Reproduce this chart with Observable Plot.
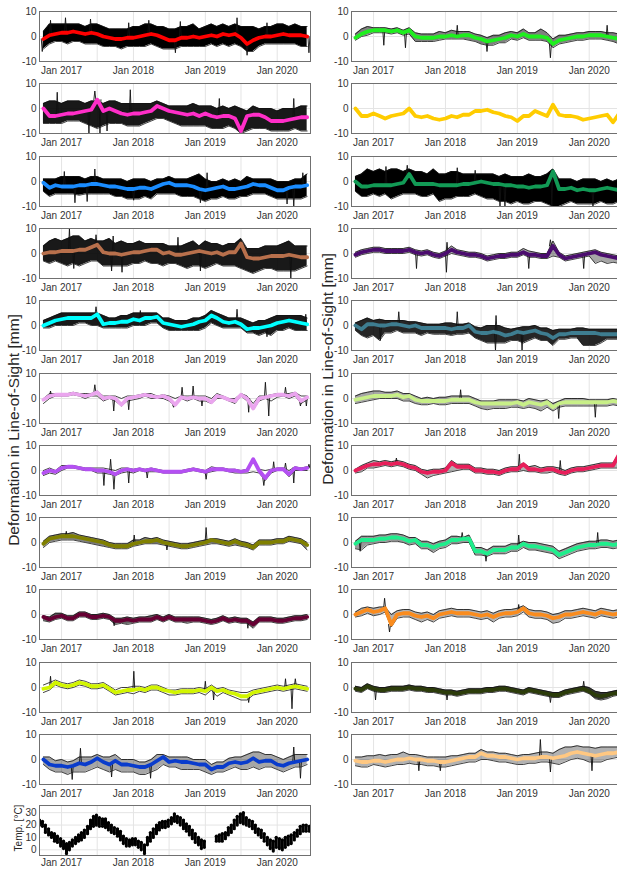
<!DOCTYPE html>
<html><head><meta charset="utf-8">
<script src="https://cdn.jsdelivr.net/npm/d3@7"></script>
<script src="https://cdn.jsdelivr.net/npm/@observablehq/plot@0.6"></script>
<style>
body{margin:0;background:#fff;}
#wrap{position:relative;width:617px;height:869px;overflow:hidden;background:#fff;font-family:"Liberation Sans",Arial,sans-serif;}
.ylab{position:absolute;white-space:nowrap;transform:translate(-50%,-50%) rotate(-90deg);color:#262626;line-height:1;}
</style></head><body><div id="wrap"></div><script>
// ---- time sampling (monthly from 11 Sep 2016) ----
const xStart = new Date(Date.UTC(2016, 8, 11));
const xEnd = new Date(Date.UTC(2020, 5, 18));
const dates = d3.utcMonth.range(xStart, new Date(Date.UTC(2020, 5, 12)));
const tDates = d3.range(91).map(k => d3.utcDay.offset(xStart, Math.round(k * 365.25 / 24)));
const yearTicks = ["2017-01-01", "2018-01-01", "2019-01-01", "2020-01-01"];
const gridTicks = ["2017-01-01", "2017-07-01", "2018-01-01", "2018-07-01", "2019-01-01", "2019-07-01", "2020-01-01"];
const yTicks = [-10, 0, 10];
const tempTicks = [0, 10, 20, 30];

// ---- left column: mean (coloured), upper / lower edge of the black member lines, single-date spikes ----
const redMean = [-1,0.5,1,1.5,1.5,2,1.5,1,1.5,1, 0,-0.5,-1,-1,-0.5,-0.5,0,0.5,1,0.5, -0.5,-1.5,-1.5,-0.5,-0.5,0,-0.5,0,0.5,0, 1,0.5,1,-0.5,-3,-1.5,-0.5,0,0,0.5, 1,0.5,0.5,0.5,0,-0.5];
const redHi = [2,5,5,5,5,5,5,4,5,5, 4,3,3,3,3,4,4,5,5,4, 4,3,3,4,4,5,3,4,5,4, 5,4,5,4,4,4,3,4,4,5, 5,4,5,4,4,3];
const redLo = [-5,-3,-2,-2,-3,-2,-2,-3,-3,-3, -4,-4,-4,-5,-4,-4,-4,-4,-3,-4, -5,-5,-5,-4,-4,-4,-4,-4,-3,-4, -3,-4,-3,-4,-6,-6,-4,-3,-3,-3, -3,-3,-3,-4,-4,-5];
const redSpikes = [["2016-11-06",6.5],["2017-01-21",7.5],["2017-05-28",7],["2017-12-08",5.5],["2018-03-20",6.5],["2018-08-27",6],["2019-06-11",7.5],["2019-11-10",5.5],["2016-09-25",-6],["2018-08-02",-6.5],["2019-08-01",-7.5],["2020-06-10",-6.5]];

const pinkMean = [0,-3,-3,-2.5,-2,-2,-1.5,-1,-0.5,3.5, -1,0,-1,-2,-2.5,-2,-2,-1.5,-1,1, 0,-1,-1.5,-2,-2.5,-2,-3,-2,-3,-3.5, -3,-3,-4,-9,-3,-2.5,-2.5,-3.5,-5,-5, -5,-4.5,-4,-3.5,-3.5,-2];
const pinkHi = [2,3,3,2,3,3,3,2,3,3, 2,3,3,2,2,2,2,2,2,3, 2,1,1,1,1,2,1,1,1,0, 1,0,1,0,-1,1,0,0,0,-1, 0,0,0,1,1,2];
const pinkLo = [-6,-6,-6,-6,-5,-5,-5,-6,-7,-8, -7,-6,-6,-6,-7,-7,-7,-6,-5,-4, -4,-5,-6,-7,-7,-7,-7,-7,-8,-8, -8,-7,-8,-10,-9,-8,-8,-8,-9,-9, -9,-9,-8,-9,-9,-7];
const pinkSpikes = [["2017-06-19",7],["2017-12-16",7.5],["2019-03-13",4],["2020-03-25",4],["2016-12-10",6.5],["2017-05-20",-10],["2017-07-15",-10],["2017-08-20",-9]];

const azureMean = [-0.5,-2.5,-1.5,-2,-2,-2,-1.5,-1.5,-1,-1, -1.5,-2,-2,-2.5,-3,-3,-2.5,-2.5,-3,-2, -1,-0.5,-1.5,-1.5,-1.5,-2,-3,-3.5,-3,-2.5, -2,-3,-3,-2.5,-2,-1,-1.5,-1.5,-2.5,-3.5, -3.5,-2.5,-2,-2,-1.5,-1.5];
const azureHi = [1,1,1,2,2,2,2,1,2,2, 1,1,1,1,0,1,1,1,0,1, 1,2,1,1,1,2,3,1,0,0, 1,0,1,0,2,1,1,1,1,0, 0,0,1,1,3,2];
const azureLo = [-4,-6,-5,-5,-5,-5,-5.5,-5,-5,-5, -5,-5,-6,-6,-7,-7,-7,-6,-7,-5, -5,-5,-5,-6,-6,-6,-7,-8,-7,-7, -6,-7,-7,-6,-6,-5,-5,-5,-6,-7, -7,-7,-7,-7,-6,-5];
const azureSpikes = [["2017-01-15",4],["2017-06-19",5],["2019-01-10",3.5],["2020-05-10",3.5],["2017-03-10",-8.5],["2017-05-11",-8],["2018-01-02",-7.5],["2018-12-07",-8.5],["2020-02-20",-9],["2020-03-25",-10]];

const brownMean = [0,0.5,0.5,1,1,1,1.5,1.5,2.5,3.5, 0.5,0,0,-0.5,0,0.5,0.5,1,1.5,1.5, 0,0.5,-0.5,-0.5,0,0.5,1,0.5,0,0.5, -0.5,0.5,0.5,4,-1.5,-2,-2,-1.5,-1,-1, -1,-0.5,-1,-1.5,-1.5,-2];
const brownHi = [3,5,6,5,6,7,7,5,6,5, 5,6,4,5,4,4,5,4,4,4, 4,3,3,3,4,5,3,5,4,4, 3,4,4,6,2,2,2,3,3,3, 4,5,3,3,3,2];
const brownLo = [-3,-4,-3,-4,-5,-4,-5,-4,-3,-3, -5,-5,-5,-5,-5,-4,-4,-3,-4,-4, -5,-4,-4,-5,-6,-5,-5,-6,-5,-4, -5,-5,-5,-6,-7,-8,-7,-6,-6,-7, -7,-7,-7,-6,-5,-5];
const brownSpikes = [["2017-02-10",10],["2017-06-25",7.5],["2017-09-20",7],["2018-08-15",6.5],["2017-03-04",-6],["2017-09-12",-7],["2017-11-04",-7.5],["2018-12-07",-7],["2020-03-10",-10]];

const cyanMean = [0,1,2,2.5,3,3,3,3,3,4.5, 0.5,1,1,1.5,1.5,2.5,2,3,3,3.5, 1,0.5,0,-0.5,0,0.5,1.5,2,4,3, 1.5,1,1.5,0.5,-1.5,-1,-1,-0.5,0,1, 1.5,2,1.5,1,0.5,1];
const cyanHi = [2,3,4,5,5,5,5,5,5,5, 4,3,3,4,4,5,5,5,5,5, 3,3,2,2,2,3,3,4,6,5, 4,3,3,3,2,1,2,2,3,4, 4,4,4,4,3,3];
const cyanLo = [-1,-1,0,0,0,0,1,1,0,0, -1,-1,-1,-1,-1,0,0,0,1,1, -1,-2,-2,-2,-2,-2,-2,-1,1,0, -1,-1,-1,-1,-3,-3,-4,-3,-4,-2, -2,-1,-2,-2,-2,-2];
const cyanSpikes = [["2017-06-25",7.5],["2018-02-05",6],["2019-06-11",6.5],["2020-05-25",4.5],["2019-11-10",-4.5]];

const plumMean = [-0.5,1,1.5,1.5,1.5,2,1.5,1,1.5,2.5, 0,0.5,0,-2.5,0,0.5,1,1.5,1,0.5, 1,0,-2.5,0.5,0,0.5,0,0,-1.5,1, 0.5,-0.5,-1,1.5,0,-4,0,0.5,1,1.5, 1.5,1,2,-1,0.5,0.5];
const plumHi = [0,2,2,2,2,2.5,2,2,2,3, 1,1,1,0,1,1,1.5,2,2,1, 1.5,1,0,1,1,1,1,1,0,2, 1,0,0,2,1,-2,1,1,1.5,2, 2,2,2.5,1,1,1];
const plumLo = [-2,0,1,1,1,1.5,1,0,1,1, -1,0,-1,-3,-1,-0.5,0,1,0,0, 0,-1,-3,0,-1,0,-1,-1,-2,0, 0,-1,-2,1,-1,-4.5,-1,0,-1,0.5, 1,0,1,-2,-0.5,-0.5];
const plumSpikes = [["2016-11-06",3],["2017-06-19",5.5],["2017-09-23",-5],["2017-12-08",-4.5],["2018-07-24",-3.5],["2018-09-05",4.5],["2018-10-31",5],["2018-12-15",-3],["2019-08-09",-5.5],["2019-11-02",6.5],["2019-11-19",-7],["2020-02-12",4.5],["2020-04-28",-3],["2020-05-28",-3]];

const purpleMean = [-1,0,-0.5,1,1.5,1.5,1,0.5,0.5,0, 0,-0.5,-1.5,0,0.5,0,0.5,0,0.5,0, -0.5,-0.5,-0.5,-0.5,0,0.5,0,-0.5,0.5,0.5, 0.5,0,0,-0.5,0,4.5,0,-3,0,0.5, 0.5,-1.5,1,0.5,1,0.5];
const purpleHi = [0,1,0,2,2,2,1.5,1,1,1, 1,0.5,0,1,1,0.5,1,0.5,1,0.5, 0,0,0,0,0.5,1,0.5,0,1.5,1, 1,0.5,0.5,0,0.5,5,0.5,0,0.5,1, 1,0,1.5,1,1.5,1];
const purpleLo = [-2,-1,-1.5,0,1,1,0.5,0,0,-1, -1,-1.5,-2,-1,-0.5,-1,0,-0.5,-0.5,-0.5, -1,-1,-1,-1,-0.5,0,-0.5,-1,-0.5,0, 0,-0.5,-1,-1,-1,-0.5,-1,-4,-1,0, 0,-2.5,0,0,0,0];
const purpleSpikes = [["2017-08-04",-6],["2017-09-07",4.5],["2017-09-24",-7.5],["2017-12-08",-5],["2018-03-12",-3],["2019-01-05",-3.5],["2019-10-25",-6],["2019-12-14",3.5],["2020-02-12",3],["2020-03-25",-5],["2020-06-10",2.5]];

const oliveMean = [-0.5,1.5,2,2.5,2.5,2.5,2,1.5,1,0.5, 0,-1,-1.5,-1.5,-1.5,-0.5,0,0.5,0.5,1, 0,-0.5,-1,-1.5,-1.5,-1,-0.5,0,1,0.5, 0,-0.5,0.5,-0.5,-1,-2,0,0,0,0.5, 0.5,1.5,1,0.5,-1,-3];
const oliveHi = [0.5,2.5,3,3.5,3.5,4,3,2.5,2,1.5, 1,0,-0.5,-0.5,-0.5,1,1,2,1.5,2, 1,0.5,0,-0.5,-0.5,0,0.5,1,1.5,1.5, 1,0.5,1.5,0.5,0,-1,1,1,1,1.5, 1.5,2.5,2,1.5,0,-2];
const oliveLo = [-2,0,0.5,1,1,1,0.5,0,-0.5,-1, -1.5,-2,-2.5,-2.5,-2.5,-1.5,-1,-0.5,-0.5,-0.5, -1,-1.5,-2,-2.5,-2.5,-2,-1.5,-1,-0.5,-0.5, -1,-1.5,-1,-1.5,-2,-3,-1,-1,-1,-0.5, -0.5,0.5,0,-0.5,-3,-7];
const oliveSpikes = [["2017-01-25",4.5],["2018-01-05",3],["2019-01-05",6],["2018-06-20",-3]];

const maroonMean = [-1,-2,-1,-0.5,-1.5,-1.5,0,0,-1,-1, -0.5,-1,-2.5,-2.5,-2,-2.5,-2,-2,-2,-1, -2,-1,-2,-2,-2,-2,-2,-2.5,-3,-2.5, -1.5,-2.5,-2,-2.5,-2.5,-4,-2,-2,-2,-2.5, -2.5,-2,-1.5,-1.5,-1,-1];
const maroonHi = [-0.5,-1,0.5,0.5,-0.5,-0.5,1,1,0,0, 0.5,0,-1.5,-1.5,-1,-1.5,-1,-1,-0.5,0, -1,0,-1,-1,-1,-1,-1,-1.5,-2,-1.5, -0.5,-1.5,-1,-1.5,-1.5,-3,-1,-1,-1,-1.5, -1.5,-1,-0.5,-0.5,0,0];
const maroonLo = [-2.5,-3,-2,-1.5,-2.5,-2.5,-1,-1,-2,-2, -1.5,-2,-4,-3.5,-4,-3.5,-3,-3,-3,-2, -3,-2,-3,-3,-3.5,-3,-3,-3.5,-4,-3.5, -2.5,-3.5,-3,-3.5,-3.5,-5.5,-3,-3,-3,-3.5, -3.5,-3,-2.5,-2.5,-2,-2];
const maroonSpikes = [["2017-09-25",-4.5],["2019-08-05",-5.5]];

const limeMean = [-0.5,0,2,1,0.5,1,2,1.5,0.5,0.5, 1,-0.5,-2,-1.5,-1,-1,-0.5,-1,0,0, -1,-1.5,-2,-1.5,-1.5,-1.5,-1,-1.5,0,-1.5, -1,-2,-2.5,-3.5,-3.5,-2,-1.5,-1,-0.5,0, -0.5,0,0.5,0,-0.5,-0.5];
const limeHi = [1,2,3,2,1.5,2,3,2.5,1.5,1.5, 2,0.5,-1,0,0,0.5,0.5,0,1,1, 0,-1,-1,-0.5,-0.5,-0.5,0,-0.5,1,-0.5, 0,-1,-1.5,-2,-2,-1,-0.5,0,0.5,1, 0.5,1,1.5,1,0.5,1];
const limeLo = [-2,-1,1,0,-0.5,0,1,0.5,-0.5,-0.5, 0,-1.5,-3,-2.5,-2,-2.5,-1.5,-2,-1,-1, -2,-3,-3,-2.5,-2.5,-2.5,-2,-3,-1,-3.5, -2,-3,-4,-5,-5,-3,-2.5,-2,-1.5,-1, -1.5,-1,-0.5,-1,-1.5,-1.5];
const limeSpikes = [["2016-11-06",4.5],["2018-01-03",6.5],["2019-01-01",2.5],["2019-02-12",-5],["2019-08-09",-6],["2020-02-12",3.5],["2020-03-16",-8.5],["2020-04-02",3.5]];

const royalMean = [0,-2,-2.5,-2.5,-3,-2.5,-1.5,-2,-1,0.5, -1,-2,-0.5,-2,-2,-2.5,-3,-3,-2,-0.5, 1,-1,-0.5,-1,-1,-1.5,-2,-2,-4,-3, -3,-1.5,-1,-1.5,-1,0.5,-1,-0.5,-0.5,-2, -2.5,-1.5,-1,-0.5,0,0.5];
const royalHi = [1,1,-0.5,0,-1,-0.5,1,1,1,2, 1,1,2,0,0,0,-1,-1,0,2, 2,1,1,1,1,0,0,0,-2,-1, -1,0.5,1,1,2,3,3,2,2,1, 0,1,2,2,2,2];
const royalLo = [-2,-4,-5,-5,-6,-5,-5,-5,-4,-3, -4,-5,-4,-5,-5,-5,-6,-6,-5,-4, -2,-3,-3,-4,-4,-4,-4,-5,-6,-5, -5,-4,-3,-4,-4,-3,-4,-3,-3,-4, -5,-4,-3,-3,-2,-1];
const royalSpikes = [["2017-04-07",4.5],["2017-02-24",-8],["2017-09-12",-7],["2018-03-29",-7.5],["2020-03-25",5],["2020-04-28",-7.5]];

// ---- right column ----
const greenMean = [-0.5,1,2,2.5,2.5,2.5,2,2.5,1.5,2.5, 0,-0.5,-0.5,-0.5,0,0,0.5,0,0.5,0.5, -0.5,-1,-2,-1.5,-1,-0.5,0.5,0,1,0, 0,0,-0.5,-3,-1.5,-1,-0.5,0,0,0.5, 0.5,0.5,0,-0.5,-1,-1];
const greenHi = [1,3,4,3.5,3.5,3.5,3,3.5,2.5,3.5, 1.5,1,1,1,2,1.5,2.5,2,2,2, 1,0.5,-0.5,0.5,0.5,1.5,2,1.5,3,1.5, 1.5,3,1.5,-1,0.5,0.5,1,1.5,1.5,2, 2,2,1.5,1.5,1,0.5];
const greenLo = [-1.5,0,0.5,1.5,1.5,1.5,1,1.5,0.5,1, -2,-2,-2,-2,-1.5,-1,-1,-1,-1,-1.5, -2,-3,-3.5,-3.5,-2.5,-2.5,-1,-1.5,-0.5,-1.5, -1.5,-1.5,-2,-4.5,-3,-2.5,-2,-1.5,-1.5,-1, -1,-1,-1.5,-2,-3,-3];
const greenSpikes = [["2017-02-22",-3.5],["2017-06-12",-4.5],["2018-03-02",4.5],["2018-07-31",-6],["2019-06-18",-8.5],["2020-04-01",4.5]];

const goldMean = [0,-3,-3,-2,-3,-4,-3,-2.5,-2,0, -3,-3.5,-3,-4,-4.5,-4,-3,-3.5,-2.5,-2.5, -1,-1,-0.5,-1.5,-2,-3,-3.5,-5,-3,-3, -1,-2,-3,1.5,-2.5,-3,-3,-3.5,-4.5,-4, -3.5,-3,-2.5,-5.5,-2,-3];

const seaMean = [0,-2,-2,-1.5,-1.5,-1.5,-1.5,-1,-0.5,3, -1,-1,-1,-1,-1.5,-1.5,-1.5,-1.5,-1,-1, -0.5,0,-0.5,-1,-1,-1.5,-1.5,-2,-2,-2.5, -2,-2,-1.5,4,-3,-3,-2.5,-3.5,-3,-3.5, -3.5,-3,-2.5,-3,-3.5,-3];
const seaHi = [2,3,5,4,5,4,5,5,4,5, 4,4,3,5,3,3,4,4,3,3, 3,3,3,3,2,3,2,2,2,3, 2,2,3,5,1,1,1,0,1,1, 1,0,1,0,1,1];
const seaLo = [-4,-6,-6,-5,-6,-5,-7,-6,-5,-5, -5,-6,-6,-5,-8,-7,-7,-6,-6,-6, -5,-6,-7,-7,-8,-8,-9,-8,-9,-9, -8,-8,-9,-10,-10,-9,-8,-9,-9,-9, -9,-8,-9,-9,-8,-7];
const seaSpikes = [["2017-03-05",6],["2017-06-21",6.5],["2018-03-02",5.5],["2018-06-01",4.5],["2018-10-05",-10],["2018-10-30",-10],["2019-06-25",-10],["2020-01-20",-10]];

const indigoMean = [-0.5,0.5,1,1.5,1.5,1,1,1,1,1.5, 0.5,0,0.5,-0.5,-1,0,1.5,0.5,0,-0.5, -0.5,-1,-2,-1.5,-1,-1,-0.5,-0.5,0.5,-0.5, -0.5,-1,-1,3,-0.5,-2,-1.5,-1,-0.5,0, 0.5,-0.5,-1,-1.5,-2,-4];
const indigoHi = [0.5,1.5,2,2.5,2.5,2,2,2,2,2.5, 1.5,1,1.5,0.5,0,1,3,1.5,1,0.5, 0.5,0,-1,-0.5,0,0,0.5,0.5,2,1, 0.5,0,0,5,0.5,-1,-0.5,0,0.5,1, 1.5,0.5,0,-0.5,-1,-3];
const indigoLo = [-1.5,-0.5,0,0.5,0.5,0,0,0,0,0.5, -0.5,-1,-0.5,-1.5,-2,-1,0,-0.5,-1,-1.5, -1.5,-2,-3,-2.5,-2,-2,-1.5,-1.5,-0.5,-1.5, -1.5,-2,-2,-1,-1.5,-3,-2.5,-2,-1.5,-1, -4,-3,-4,-3.5,-4,-5];
const indigoSpikes = [["2017-08-07",-6],["2018-01-06",-7.5],["2018-01-09",4.5],["2019-02-28",-6],["2019-06-18",5.5],["2019-12-04",-6]];

const tealMean = [0,-1.5,0.5,0.5,0,0,0.5,0.5,0,-0.5, 0,-1,-1,-1,-1,-1,-1.5,-1,-1,0, -2.5,-3,-3,-2.5,-3,-4,-3.5,-2.5,-3,-2.5, -2,-3,-3.5,-5,-3.5,-3.5,-3,-3,-3,-3, -3,-3.5,-3.5,-3.5,-3.5,-3.5];
const tealHi = [1,2,3,2,2.5,2,2,2,2,1.5, 1.5,1,0.5,0.5,0.5,1,1,0.5,0.5,1, -0.5,-1,0,0,0,-1,-1.5,-1,-0.5,-0.5, 0,-1,-1,-2,-1.5,-1.5,-1.5,-1,-1,-1.5, -1.5,-1.5,-1.5,-1.5,-1.5,-1.5];
const tealLo = [-2,-4,-5,-4,-6,-3,-3,-2,-3,-3, -3,-4,-3,-3.5,-3.5,-3.5,-4,-3.5,-3.5,-3, -5,-6,-7,-7,-7,-7,-6,-6,-7,-6, -5,-6,-6,-8,-5.5,-5.5,-5,-5,-8,-8, -8,-7,-5.5,-5.5,-5.5,-5.5];
const tealSpikes = [["2017-05-09",5.5],["2018-03-02",5.5],["2018-09-15",4],["2018-09-12",-10],["2019-01-25",-10],["2017-02-05",-6]];

const lightMean = [-0.5,0,0.5,1,1,1,1,1.5,0.5,1, -0.5,-1,-1,-1,-1,-1,-0.5,-0.5,-0.5,-0.5, -1.5,-2,-2,-2,-2,-2,-2,-1.5,-2.5,-1.5, -2,-2.5,-1.5,-3.5,-2,-1.5,-1.5,-1.5,-1.5,-1.5, -1.5,-1.5,-1.5,-1,-1.5,-2];
const lightHi = [1,2,2.5,3,3,2.5,2.5,3,2,2, 1,0,0.5,0,0.5,0.5,1,1,1,1, 0,-1,-1,-1,-0.5,-0.5,-0.5,-0.5,-1,0, -0.5,-1,-0.5,-2,-1,0,0,0,0,-0.5, -0.5,-0.5,-0.5,0,-0.5,-1];
const lightLo = [-2,-1.5,-1,-0.5,0,0,0,0,-1,-1, -2,-2.5,-2.5,-2,-2.5,-2.5,-2,-2,-2,-2, -3,-4,-4.5,-4,-4,-4,-3.5,-3.5,-4,-3.5, -4,-5,-3.5,-5,-3.5,-3,-3,-3,-3,-3, -3,-3,-3,-2.5,-3,-3];
const lightSpikes = [["2018-03-19",3.5],["2019-07-30",-8],["2020-02-01",-7.5]];

const crimsonMean = [0,1,2,2.5,2.5,3,2.5,3,2.5,1.5, 1,-0.5,-1,-0.5,-0.5,0,3,1.5,1.5,1.5, 0,0,-0.5,-0.5,-1,0,0.5,0.5,2.5,0.5, 0.5,0,0.5,0.5,-0.5,-1,0,0.5,0.5,1, 1.5,2,2,2,6.5,6.5];
const crimsonHi = [0.5,2,3,4,3.5,4,3.5,4,3.5,2.5, 2,0.5,0,0.5,0.5,1,4,2.5,2.5,2.5, 1,1,0.5,0.5,0,1,1.5,1.5,3,1.5, 2,1,1.5,1.5,1,0,1,1.5,1.5,2, 2.5,3,3,3,7,7];
const crimsonLo = [-1,-0.5,1,1,1.5,2,1.5,2,1.5,0.5, 0,-1.5,-3,-2,-1.5,-1,-0.5,0,0.5,0.5, -1,-1,-1.5,-1.5,-2,-1,-0.5,-0.5,0,-0.5, -0.5,-1,-1,-0.5,-1.5,-2,-1,-0.5,-0.5,0, 0.5,1,1,1,1,1];
const crimsonSpikes = [["2017-04-27",5],["2019-01-11",6.5],["2019-08-07",4]];

const mintMean = [-0.5,1,1,1,1.5,1.5,2,2,1.5,0.5, 1,-1,-1,-2,-1,-0.5,1,1,1.5,1.5, -3.5,-3.5,-4.5,-3,-3,-3,-2,-2,-0.5,-1.5, -1.5,-2,-2.5,-3,-5,-4,-3,-2,-1.5,-1, -1,-0.5,-0.5,-1,-0.5,-0.5];
const mintHi = [0.5,2.5,2.5,2.5,3,3,3.5,3.5,3,2, 2,0.5,0.5,-0.5,0.5,1,2.5,2.5,2,3, -2,-2,-3,-1.5,-1.5,-1.5,-0.5,-0.5,0.5,0, 0,-0.5,-1,-1.5,-3.5,-2.5,-1.5,-0.5,0,0.5, 0.5,1,1,0.5,1,1];
const mintLo = [-2.5,-3,-1,-0.5,0,0,0.5,0.5,0,-1, -0.5,-2.5,-2.5,-4,-2.5,-2,-0.5,-0.5,0,0, -5,-5,-5.5,-4.5,-4.5,-4.5,-3.5,-3.5,-2,-3, -3,-3.5,-4,-4.5,-6.5,-5.5,-4.5,-3.5,-3,-2.5, -2.5,-2,-2,-2.5,-2,-2];
const mintSpikes = [["2018-03-27",4],["2018-07-26",-7.5],["2019-01-08",3],["2020-02-13",4],["2016-10-25",-3.5]];

const orangeMean = [0,1,2,1,1.5,2.5,-4,0,0.5,0.5, -0.5,-1,-0.5,-1.5,0,0.5,1,0.5,0.5,0.5, 0,-0.5,0,-1,0,0.5,0.5,1,2.5,0.5, 0,0,-0.5,-1.5,-1,0,0,0.5,1,0.5, 0,1,0.5,0,0.5,0.5];
const orangeHi = [1,2.5,3,2.5,3,3,0,1.5,2,2, 1,0.5,1,0,1.5,2,2.5,2,2,2, 1.5,1,1.5,0.5,1.5,2,2,2.5,3.5,2, 1.5,1.5,1,0,0.5,1.5,1.5,2,2.5,2, 1.5,2.5,2,1.5,2,2];
const orangeLo = [-1,-0.5,0.5,-0.5,0,1,-5,-1.5,-1,-1, -2,-3,-2,-3,-1.5,-1,-0.5,-1,-1,-1, -1.5,-2,-1.5,-3,-1.5,-1,-1,-0.5,1,-1, -1.5,-1.5,-2,-3.5,-3,-1.5,-1.5,-1,-0.5,-1, -1.5,-0.5,-1,-1.5,-1,-1];
const orangeSpikes = [["2017-02-26",6.5],["2017-03-23",-7],["2019-01-08",4]];

const darkOliveMean = [-0.5,-1,0.5,-0.5,-1,-1,-0.5,-0.5,-0.5,0, -0.5,-0.5,-1,-1,-1.5,-2,-2,-2.5,-2,-1.5, -1.5,-1.5,-1,-1,-0.5,-0.5,-1,-1.5,-2,-1, -1.5,-2,-2.5,-3,-3,-2,-1.5,-1,-0.5,-1.5, -3,-3.5,-3,-2.5,-2,-2];
const darkOliveHi = [0.5,0,1.5,0.5,0,0,0.5,0.5,0.5,1, 0.5,0.5,0,0,-0.5,-1,-1,-1.5,-1,-0.5, -0.5,-0.5,0,0,0.5,0.5,0,-0.5,-1,0, -0.5,-1,-1.5,-2,-2,-1,-0.5,0,0.5,0, -1.5,-2,-2,-1.5,-1,-1];
const darkOliveLo = [-1.5,-2,-0.5,-1.5,-2,-2,-1.5,-1.5,-1.5,-1, -1.5,-1.5,-2,-2,-2.5,-3,-3,-3.5,-3,-2.5, -2.5,-2.5,-2,-2,-1.5,-1.5,-2,-2.5,-3,-2, -2.5,-3,-3.5,-4,-4,-3,-2.5,-2,-1.5,-2.5, -4.5,-5,-4.5,-3.5,-3,-3];
const darkOliveSpikes = [["2017-01-11",-5],["2018-01-09",-5],["2019-06-18",-6],["2019-12-04",2.5]];

const peachMean = [-0.5,-1,-1,-0.5,-0.5,-1,-0.5,0,0,0.5, 0,0,-0.5,-0.5,-1,-1,-0.5,0,0.5,1, 1,2.5,1.5,1.5,1,1,0.5,0,0.5,0.5, 0.5,1,1,0.5,1,1.5,2.5,3,2.5,2, 1.5,2,2.5,2.5,3,3];
const peachHi = [1,1,1.5,1.5,2,1.5,2,2,3,2, 2,1.5,1,1,1,1,1.5,1.5,2,2.5, 2.5,4,3,3,2.5,2.5,2,1.5,2,2, 2.5,3,3,2.5,4,5,5,5.5,5,5, 4.5,5,5,5,5,5];
const peachLo = [-2.5,-3,-3,-2,-2.5,-3,-2.5,-2,-2,-1.5, -2,-2,-2.5,-2.5,-3,-3,-2.5,-2,-1.5,-1, -1,0,0,-0.5,-1,-1,-1.5,-2,-2,-1.5, -1.5,-1,-1,-1.5,-2,-1,0,0.5,0,-1, -1,-1,0,0.5,1,1];
const peachSpikes = [["2019-04-28",8],["2019-06-18",-5],["2020-01-15",-4.5],["2017-08-19",-4.5],["2017-12-06",-4.5]];

// ---- temperature (half-monthly upper / lower edges of the daily scatter) ----
const tempHi = [24,23,20,17,14,13,11,9,7,5, 6,8,10,12,14,16,19,24,27,28, 26,25,25,22,20,18,17,15,11,9, 8,9,9,7,6,4,10,14,17,20, 22,23,23,24,26,29,27,26,24,21, 19,16,13,10,8,7,null,null,null,11, 12,13,14,18,20,24,27,29,30,26, 24,23,20,17,16,13,10,8,7,10, 9,8,10,11,12,14,16,19,20,20, 19];
const tempLo = [20,19,14,12,10,7,6,3,1,-3, 0,3,5,7,8,10,13,17,19,20, 19,19,18,16,14,13,11,8,5,3, 3,4,4,2,0,-3,4,7,10,13, 16,18,18,19,21,23,22,20,17,15, 12,9,6,4,1,2,null,null,null,7, 7,7,9,12,14,17,20,22,21,20, 19,17,14,12,10,7,4,1,-1,2, 1,0,2,4,5,8,11,13,15,15, 15];

const leftPanels = [
  {color: "#ff0000", mean: redMean, hi: redHi, lo: redLo, spikes: redSpikes, fill: 1},
  {color: "#ff2ec8", mean: pinkMean, hi: pinkHi, lo: pinkLo, spikes: pinkSpikes, fill: 0.9},
  {color: "#1a8cff", mean: azureMean, hi: azureHi, lo: azureLo, spikes: azureSpikes, fill: 1},
  {color: "#b8704c", mean: brownMean, hi: brownHi, lo: brownLo, spikes: brownSpikes, fill: 0.9},
  {color: "#00ffff", mean: cyanMean, hi: cyanHi, lo: cyanLo, spikes: cyanSpikes, fill: 0.9},
  {color: "#eaa5ee", mean: plumMean, hi: plumHi, lo: plumLo, spikes: plumSpikes, fill: 0},
  {color: "#b450f2", mean: purpleMean, hi: purpleHi, lo: purpleLo, spikes: purpleSpikes, fill: 0},
  {color: "#808000", mean: oliveMean, hi: oliveHi, lo: oliveLo, spikes: oliveSpikes, fill: 0.5},
  {color: "#660033", mean: maroonMean, hi: maroonHi, lo: maroonLo, spikes: maroonSpikes, fill: 0.6},
  {color: "#d2f500", mean: limeMean, hi: limeHi, lo: limeLo, spikes: limeSpikes, fill: 0},
  {color: "#0a3ccc", mean: royalMean, hi: royalHi, lo: royalLo, spikes: royalSpikes, fill: 0.35}
];
const rightPanels = [
  {color: "#1eef1e", mean: greenMean, hi: greenHi, lo: greenLo, spikes: greenSpikes, fill: 0.5},
  {color: "#ffcc00", mean: goldMean, hi: null, lo: null, spikes: [], fill: 0},
  {color: "#129a55", mean: seaMean, hi: seaHi, lo: seaLo, spikes: seaSpikes, fill: 1},
  {color: "#4b0c6e", mean: indigoMean, hi: indigoHi, lo: indigoLo, spikes: indigoSpikes, fill: 0.35},
  {color: "#3e7d90", mean: tealMean, hi: tealHi, lo: tealLo, spikes: tealSpikes, fill: 0.85},
  {color: "#c8ef88", mean: lightMean, hi: lightHi, lo: lightLo, spikes: lightSpikes, fill: 0.35},
  {color: "#e81e5a", mean: crimsonMean, hi: crimsonHi, lo: crimsonLo, spikes: crimsonSpikes, fill: 0.3},
  {color: "#1fee8c", mean: mintMean, hi: mintHi, lo: mintLo, spikes: mintSpikes, fill: 0.4},
  {color: "#fa8c1e", mean: orangeMean, hi: orangeHi, lo: orangeLo, spikes: orangeSpikes, fill: 0.3},
  {color: "#2c3c0a", mean: darkOliveMean, hi: darkOliveHi, lo: darkOliveLo, spikes: darkOliveSpikes, fill: 0.8},
  {color: "#ffc882", mean: peachMean, hi: peachHi, lo: peachLo, spikes: peachSpikes, fill: 0.3}
];

const wrap = document.getElementById("wrap");
const FONT = '"Liberation Sans", Arial, sans-serif';
const fmtX = d3.utcFormat("%b %Y");
const parseD = s => new Date(s + "T00:00:00Z");
const yearDates = yearTicks.map(parseD);
const gridDates = gridTicks.map(parseD);
const rowTop = i => 11 + 72.3 * i;

function place(svg, left, top) {
  svg.style.position = "absolute";
  svg.style.left = left + "px";
  svg.style.top = top + "px";
  wrap.appendChild(svg);
}

function commonAxes(yt, pad) {
  return [
    Plot.axisX({ticks: yearDates, tickFormat: fmtX, tickSize: 0, tickPadding: pad, label: null, fill: "#333"}),
    Plot.axisY({ticks: yt, tickFormat: d => String(d), tickSize: 0, tickPadding: 3, label: null, fill: "#333"})
  ];
}

// narrow spike lines: each spike leaves the mean line at its nearest sample and returns
function spikePoints(cfg) {
  const out = [];
  (cfg.spikes || []).forEach(([ds, v], k) => {
    const d = parseD(ds);
    const i = d3.minIndex(dates, x => Math.abs(x - d));
    const b = cfg.mean[i];
    out.push({x: d3.utcDay.offset(d, -5), y: b, z: k}, {x: d, y: v, z: k}, {x: d3.utcDay.offset(d, 5), y: b, z: k});
  });
  return out;
}

function drawPanel(cfg, col, row) {
  const data = dates.map((d, i) => ({date: d, m: cfg.mean[i], hi: cfg.hi ? cfg.hi[i] : null, lo: cfg.lo ? cfg.lo[i] : null}));
  const marks = [
    Plot.ruleX(gridDates, {stroke: "#e4e4e4", strokeWidth: 1}),
    Plot.ruleY([0], {stroke: "#e4e4e4", strokeWidth: 1})
  ];
  if (cfg.hi) {
    if (cfg.fill > 0) marks.push(Plot.areaY(data, {x: "date", y1: "lo", y2: "hi", fill: "#000", fillOpacity: cfg.fill, clip: true}));
    marks.push(Plot.lineY(data, {x: "date", y: "hi", stroke: "#111", strokeWidth: 0.8, clip: true}));
    marks.push(Plot.lineY(data, {x: "date", y: "lo", stroke: "#111", strokeWidth: 0.8, clip: true}));
  }
  const sp = spikePoints(cfg);
  if (sp.length) marks.push(Plot.line(sp, {x: "x", y: "y", z: "z", stroke: "#111", strokeWidth: 0.9, clip: true}));
  marks.push(Plot.lineY(data, {x: "date", y: "m", stroke: cfg.color, strokeWidth: 3.8, strokeLinejoin: "round", strokeLinecap: "round", clip: true}));
  marks.push(Plot.frame({stroke: "#707070", strokeWidth: 1}));
  marks.push(...commonAxes(yTicks, 5));
  const svg = Plot.plot({
    width: 312, height: 66, marginLeft: 39, marginRight: 2, marginTop: 2, marginBottom: 14,
    x: {type: "utc", domain: [xStart, xEnd], label: null},
    y: {domain: [-10, 10], label: null},
    style: {fontSize: "10px", fontFamily: FONT, color: "#333", background: "transparent", overflow: "visible"},
    marks
  });
  place(svg, col === 0 ? 0 : 312, rowTop(row) - 2);
}

leftPanels.forEach((p, i) => drawPanel(p, 0, i));
rightPanels.forEach((p, i) => drawPanel(p, 1, i));

// temperature panel
(function () {
  const data = tDates.map((d, i) => ({date: d, hi: tempHi[i], lo: tempLo[i]})).filter(d => d.hi != null);
  const svg = Plot.plot({
    width: 312, height: 63, marginLeft: 39, marginRight: 2, marginTop: 1, marginBottom: 12,
    x: {type: "utc", domain: [xStart, xEnd], label: null},
    y: {domain: [-4.6, 35.8], label: null},
    style: {fontSize: "10px", fontFamily: FONT, color: "#333", background: "transparent", overflow: "visible"},
    marks: [
      Plot.ruleX(gridDates, {stroke: "#e4e4e4"}),
      Plot.ruleY(tempTicks, {stroke: "#e4e4e4"}),
      Plot.ruleX(data, {x: "date", y1: "lo", y2: "hi", stroke: "#000", strokeWidth: 3, clip: true}),
      Plot.dot(data, {x: "date", y: "hi", r: 1.6, fill: "#000", clip: true}),
      Plot.dot(data, {x: "date", y: "lo", r: 1.6, fill: "#000", clip: true}),
      Plot.frame({stroke: "#707070"}),
      ...commonAxes(tempTicks, 3)
    ]
  });
  place(svg, 0, 804);
})();

function ylab(text, x, y, size) {
  const d = document.createElement("div");
  d.className = "ylab";
  d.textContent = text;
  d.style.left = x + "px";
  d.style.top = y + "px";
  d.style.fontSize = size + "px";
  wrap.appendChild(d);
}
ylab("Deformation in Line-of-Sight [mm]", 14, 430, 15.5);
ylab("Deformation in Line-of-Sight [mm]", 328, 369, 15.5);
ylab("Temp. [°C]", 19, 828, 10);
</script></body></html>
